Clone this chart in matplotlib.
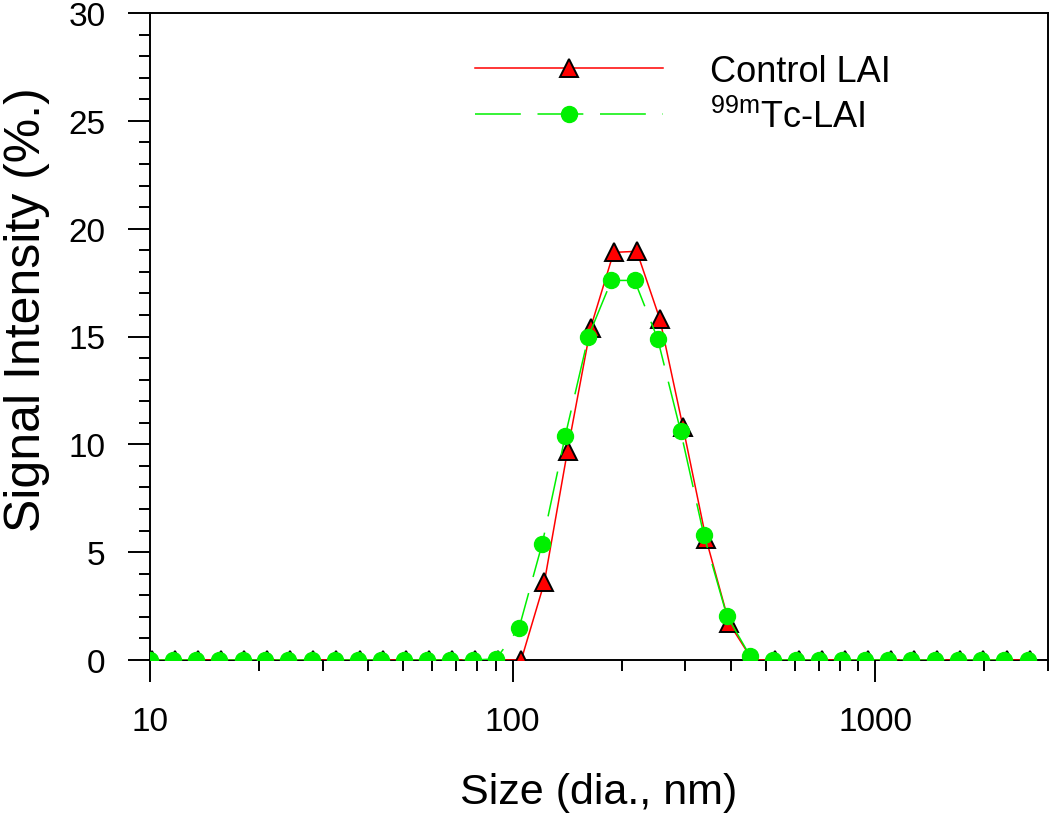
import matplotlib
matplotlib.use("Agg")
import matplotlib.pyplot as plt
from matplotlib.ticker import LogLocator, MultipleLocator, NullFormatter

plt.rcParams['font.family'] = ['Liberation Sans', 'DejaVu Sans']
plt.rcParams['mathtext.fontset'] = 'custom'
plt.rcParams['mathtext.rm'] = 'Liberation Sans'

# size bins (nm)
control_size = [10.10, 11.70, 13.54, 15.69, 18.17, 21.04, 24.36, 28.21, 32.67, 37.84,
                43.82, 50.75, 58.77, 68.06, 78.82, 91.28, 105.7, 122.4, 141.8, 164.2,
                190.1, 220.2, 255.0, 295.3, 342.0, 396.1, 458.7, 531.2, 615.1, 712.4,
                825.0, 955.4, 1106, 1281, 1484, 1718, 1990, 2305, 2669]
control_int = [0, 0, 0, 0, 0, 0, 0, 0, 0, 0,
               0, 0, 0, 0, 0, 0, 0, 3.6, 9.7, 15.4,
               18.9, 18.95, 15.8, 10.8, 5.6, 1.7, 0, 0, 0, 0,
               0, 0, 0, 0, 0, 0, 0, 0, 0]

tc_size = [10.0, 11.6, 13.4, 15.5, 18.0, 20.8, 24.1, 27.9, 32.3, 37.4,
           43.3, 50.1, 58.0, 67.2, 77.8, 90.1, 104.3, 120.8, 139.8, 161.9,
           187.5, 217.1, 251.3, 291.0, 337.0, 390.2, 451.8, 523.1, 605.7, 701.3,
           812.0, 940.2, 1088, 1260, 1459, 1690, 1956, 2265, 2640]
tc_int = [0, 0, 0, 0, 0, 0, 0, 0, 0, 0,
          0, 0, 0, 0, 0, 0.05, 1.5, 5.4, 10.4, 15.0,
          17.6, 17.6, 14.9, 10.6, 5.8, 2.05, 0.2, 0, 0, 0,
          0, 0, 0, 0, 0, 0, 0, 0, 0]

fig = plt.figure(figsize=(10.5, 8.2), dpi=100)
ax = fig.add_axes([150 / 1050, 1 - 661 / 820, 898 / 1050, 647 / 820])

lw = 1.1
ax.plot(control_size, control_int, color='#ff0000', lw=lw, marker='^', ms=13,
        mfc='#ff0000', mec='black', mew=1.4, label='Control LAI', zorder=3)
ax.plot(tc_size, tc_int, color='#00f000', lw=lw, linestyle=(0, (33 / lw, 12 / lw)),
        marker='o', ms=11.5, mfc='#00f000', mec='#00f000', label=r'$\mathregular{^{99m}}$Tc-LAI',
        zorder=4)

ax.set_xscale('log')
ax.set_xlim(10, 3000)
ax.set_ylim(0, 30)
ax.yaxis.set_major_locator(MultipleLocator(5))
ax.yaxis.set_minor_locator(MultipleLocator(1))
ax.xaxis.set_minor_locator(LogLocator(base=10, subs=range(2, 10)))
ax.xaxis.set_minor_formatter(NullFormatter())
ax.set_xticks([10, 100, 1000])
ax.set_xticklabels(['10', '100', '1000'])

for s in ax.spines.values():
    s.set_linewidth(1.4)
ax.tick_params(which='major', direction='out', length=16, width=1.4, labelsize=24)
ax.tick_params(which='minor', direction='out', length=8, width=1.4)
ax.tick_params(axis='y', which='major', pad=16)
ax.tick_params(axis='x', which='major', pad=17)
ax.tick_params(top=False, right=False, which='both')

ax.set_xlabel('Size (dia., nm)', fontsize=31)
ax.set_ylabel('Signal Intensity (%.)', fontsize=36)
ax.xaxis.set_label_coords(0.5, -0.173)
ax.yaxis.set_label_coords(-0.111, 0.5425)

ax.legend(loc='upper left', bbox_to_anchor=(0.362, 0.937), frameon=False, fontsize=26,
          handlelength=5.2, handletextpad=1.3, labelspacing=0.28, borderpad=0,
          borderaxespad=0)

fig.savefig('out.png', dpi=100)
